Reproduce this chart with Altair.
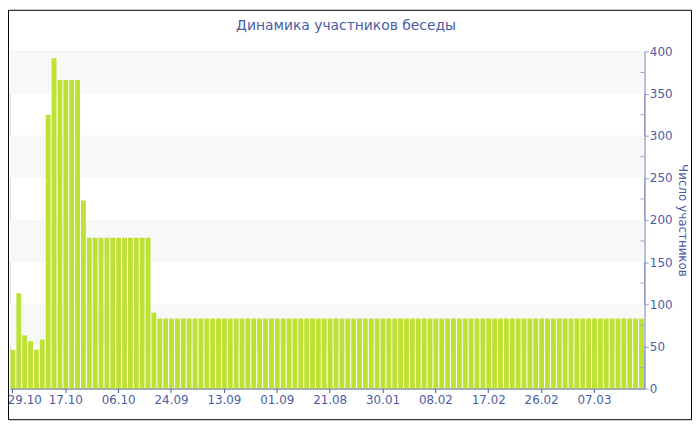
import altair as alt
import pandas as pd

# participants per bar (left to right)
participants = [
    46, 113, 63, 56, 46, 58, 325, 392, 366, 366, 366, 366, 223,
    179, 179, 179, 179, 179, 179, 179, 179, 179, 179, 179,
    90,
    83, 83, 83, 83, 83, 83, 83, 83, 83, 83,
    83, 83, 83, 83, 83, 83, 83, 83, 83, 83,
    83, 83, 83, 83, 83, 83, 83, 83, 83, 83,
    83, 83, 83, 83, 83, 83, 83, 83, 83, 83,
    83, 83, 83, 83, 83, 83, 83, 83, 83, 83,
    83, 83, 83, 83, 83, 83, 83, 83, 83, 83,
    83, 83, 83, 83, 83, 83, 83, 83, 83, 83,
    83, 83, 83, 83, 83, 83, 83, 83, 83, 83,
    83, 83, 83,
]
tick_labels = ["29.10", "17.10", "06.10", "24.09", "13.09", "01.09",
               "21.08", "30.01", "08.02", "17.02", "26.02", "07.03"]
tick_step = 9
y_ticks = [0, 50, 100, 150, 200, 250, 300, 350, 400]
minor_ticks = [25, 75, 125, 175, 225, 275, 325, 375]
band_low = [50, 150, 250, 350]
band_high = [100, 200, 300, 400]
chart_title = "Динамика участников беседы"
y_title = "Число участников"

df = pd.DataFrame({"idx": list(range(len(participants))), "value": participants})
bands = pd.DataFrame({"lo": band_low, "hi": band_high})
minor = pd.DataFrame({"v": minor_ticks})
single = pd.DataFrame({"a": [0]})

W, H = 640, 340
PAD = {"left": 2, "top": 42, "right": 48, "bottom": 32}
TEXT = "#4a5ca6"
AXIS = "#4256a0"
FONT = "DejaVu Sans"

label_expr = "[" + ",".join(f"'{t}'" for t in tick_labels) + "][datum.value / %d]" % tick_step
tick_vals = [i for i in range(0, len(participants), tick_step)]

yscale = alt.Scale(domain=[0, 400], nice=False, zero=True)
y_axis = alt.Axis(orient="right", values=y_ticks, title=y_title,
                  domainColor="#5a6aa8", tickColor="#9aa4cc", tickSize=4,
                  labelColor=TEXT, labelFontSize=12, labelFont=FONT,
                  labelPadding=1, grid=False, titleAngle=90,
                  titleColor=TEXT, titleFontSize=12, titleFont=FONT,
                  titleFontWeight="normal", titlePadding=3)
x_axis = alt.Axis(values=tick_vals, labelExpr=label_expr, labelAngle=0,
                  domainColor=AXIS, tickColor=AXIS, tickSize=4,
                  labelColor=TEXT, labelFontSize=12, labelFont=FONT,
                  labelPadding=2, labelOverlap=False, labelBound=False,
                  labelFlush=False, grid=False,
                  labelOffset=alt.condition("datum.value == 0", alt.value(12), alt.value(0)))

band_layer = alt.Chart(bands).mark_rect(color="#f8f8f8").encode(
    x=alt.value(0), x2=alt.value(W),
    y=alt.Y("lo:Q", scale=yscale, axis=y_axis), y2="hi:Q",
)

bars = alt.Chart(df).mark_bar(color="#bde234").encode(
    x=alt.X("idx:O", title=None, scale=alt.Scale(paddingInner=0.17), axis=x_axis),
    y=alt.Y("value:Q", scale=yscale, axis=y_axis),
)

minor_layer = alt.Chart(minor).mark_rule(color="#9aa4cc").encode(
    x=alt.value(W - 4), x2=alt.value(W),
    y=alt.Y("v:Q", scale=yscale, axis=y_axis),
)

title_layer = alt.Chart(single).mark_text(
    fontSize=14, font=FONT, color=TEXT, align="center", baseline="alphabetic"
).encode(x=alt.value(339), y=alt.value(-22), text=alt.value(chart_title))

frame = alt.Chart(single).mark_rect(filled=False, stroke="black", strokeWidth=1).encode(
    x=alt.value(-PAD["left"] + 0.5), x2=alt.value(W + PAD["right"] - 0.5),
    y=alt.value(-PAD["top"] + 0.5), y2=alt.value(H + PAD["bottom"] - 0.5),
)

chart = alt.layer(band_layer, bars, minor_layer, title_layer, frame).properties(
    width=W, height=H,
    autosize=alt.AutoSizeParams(type="none"),
    padding=PAD,
).configure_view(stroke=None).configure(background="white")

chart.save("out.html", embed_options={"renderer": "svg", "actions": False})
